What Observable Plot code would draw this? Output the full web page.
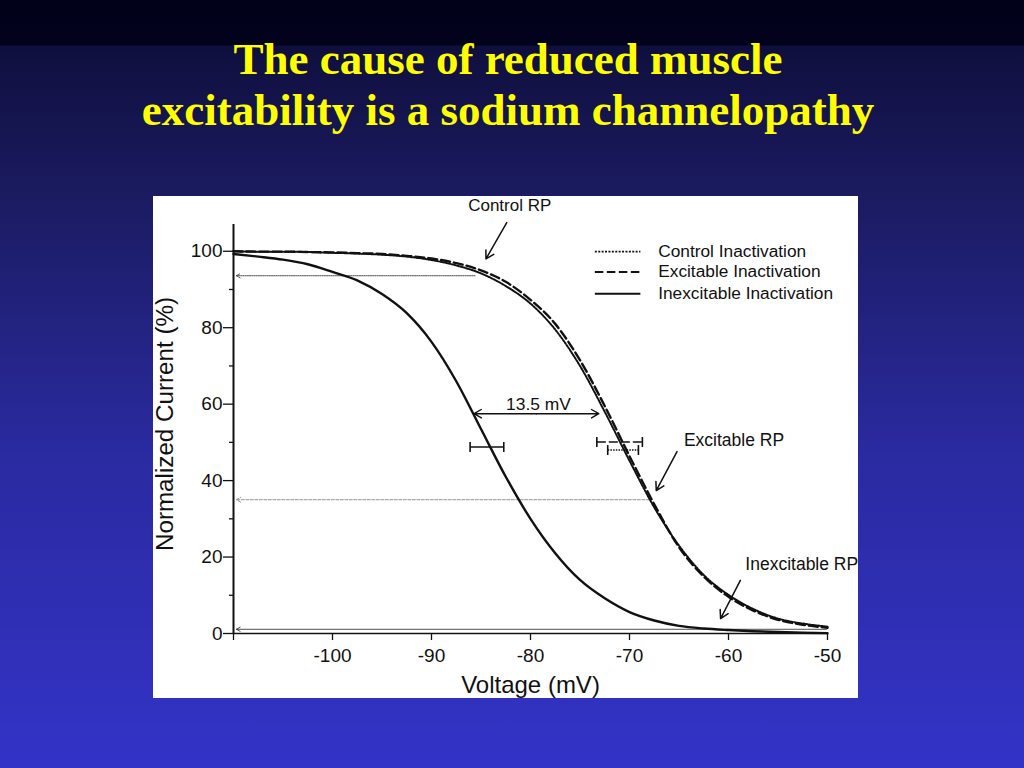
<!DOCTYPE html>
<html>
<head>
<meta charset="utf-8">
<script src="https://cdn.jsdelivr.net/npm/d3@7"></script>
<script src="https://cdn.jsdelivr.net/npm/@observablehq/plot@0.6"></script>
<style>
  html, body { margin: 0; padding: 0; }
  body {
    width: 1024px; height: 768px; position: relative; overflow: hidden;
    background: linear-gradient(to bottom, #01011a 0px, #02021c 45px, #0f0f3e 46px, #1b1b62 200px, #2a2aa0 450px, #3333c8 768px);
  }
  .title {
    position: absolute; left: 0; width: 1016px; top: 34px; text-align: center;
    font-family: "Liberation Serif", "Times New Roman", serif; font-weight: bold;
    font-size: 45px; line-height: 51px; color: #ffff00;
  }
  #panel {
    position: absolute; left: 153px; top: 196px; width: 705px; height: 502px; background: #ffffff;
  }
  #panel svg { display: block; }
</style>
</head>
<body>
<div class="title">The cause of reduced muscle<br>excitability is a sodium channelopathy</div>
<div id="panel"></div>
<script>
// Voltage (mV) sample points
const voltage = [-110,-107.5,-105,-102.5,-100,-97.5,-95,-92.5,-90,-87.5,-85,-82.5,-80,-77.5,-75,-72.5,-70,-67.5,-65,-62.5,-60,-57.5,-55,-52.5,-50];
// Normalized current (%)
const controlInact     = [100,99.9,99.9,99.8,99.6,99.4,99.1,98.6,97.7,96.3,94.2,90.9,86.3,79.5,70.0,58.0,45.2,33.0,23.0,15.3,10.1,6.4,3.9,2.6,1.8];
const excitableInact   = [100,99.9,99.9,99.8,99.7,99.5,99.3,98.8,98.1,96.9,95.0,92.0,87.3,81.0,71.5,59.5,46.4,33.8,22.6,14.9,9.6,6.0,3.6,2.3,1.5];
const inexcitableInact = [99.3,98.6,97.8,96.6,94.6,92.4,88.8,83.8,76.3,66.0,53.5,41.0,30.0,21.0,14.0,9.2,5.6,3.4,2.0,1.3,0.9,0.6,0.4,0.2,0.1];

// Series names and tick labels
const seriesNames = ["Control Inactivation", "Excitable Inactivation", "Inexcitable Inactivation"];
const xTicks = [-110, -100, -90, -80, -70, -60, -50];
const xTickLabels = ["", "-100", "-90", "-80", "-70", "-60", "-50"];
const yTicks = [0, 20, 40, 60, 80, 100];
const yMinorTicks = [10, 30, 50, 70, 90];

// Half-inactivation error bars (inexcitable, excitable, control)
const errLow  = [-86.1, -73.3, -72.2];
const errHigh = [-82.7, -68.7, -69.1];
const errY    = [48.8, 50.1, 48.0];

// Resting potential markers
const rpNames   = ["Control RP", "Excitable RP", "Inexcitable RP"];
const rpLineX   = [-85.6, -68.0, -50.1];
const rpLineY   = [93.6, 35.0, 1.1];
const rpArrowX1 = [-82.4, -65.2, -58.8];
const rpArrowY1 = [107.5, 47.6, 13.9];
const rpArrowX2 = [-84.5, -67.3, -60.8];
const rpArrowY2 = [98.0, 37.4, 3.9];
const rpLabelX  = [-82.1, -64.5, -58.3];
const rpLabelY  = [111.9, 50.5, 18.0];

// Shift annotation
const shiftLabel = "13.5 mV";
const shiftFrom = -85.7, shiftTo = -73.1, shiftY = 57.5;

// Legend placement (data units)
const legendY = [99.9, 94.6, 88.9];
const legendX1 = -73.5, legendX2 = -68.9, legendTextX = -67.1;

const ctrl = voltage.map((v, i) => ({v, c: controlInact[i]}));
const exc  = voltage.map((v, i) => ({v, c: excitableInact[i]}));
const inex = voltage.map((v, i) => ({v, c: inexcitableInact[i]}));

const styles = [
  {stroke: "#111", strokeWidth: 2, strokeDasharray: "1.6,1.4"},
  {stroke: "#111", strokeWidth: 2.4, strokeDasharray: "9,4"},
  {stroke: "#111", strokeWidth: 2.4}
];
const legendStyles = [
  {stroke: "#111", strokeWidth: 1.6, strokeDasharray: "2,1.4"},
  {stroke: "#111", strokeWidth: 2, strokeDasharray: "8.5,3.5"},
  {stroke: "#111", strokeWidth: 2}
];

const mid = (shiftFrom + shiftTo) / 2;
const font = "Liberation Sans, Arial, Helvetica, sans-serif";

const caps = [
  {x: errLow[0], y: errY[0]}, {x: errHigh[0], y: errY[0]},
  {x: errLow[1], y: errY[1]}, {x: errHigh[1], y: errY[1]},
  {x: errLow[2], y: errY[2]}, {x: errHigh[2], y: errY[2]}
];

const chart = Plot.plot({
  width: 705,
  height: 502,
  marginLeft: 80,
  marginRight: 31,
  marginTop: 28,
  marginBottom: 65,
  style: {fontFamily: font, color: "#111", background: "transparent", overflow: "visible"},
  x: {type: "linear", domain: [-110, -50]},
  y: {type: "linear", domain: [0, 107]},
  marks: [
    // axes
    Plot.ruleX([-110], {y1: 0, y2: 107, stroke: "#111", strokeWidth: 2}),
    Plot.ruleY([0], {x1: -110, x2: -50, stroke: "#111", strokeWidth: 1.6}),
    Plot.axisX(xTicks, {tickSize: 7, tickPadding: 8, fontSize: 19, tickFormat: (d, i) => xTickLabels[i], label: null, stroke: "#111", strokeWidth: 1.3}),
    Plot.axisY(yTicks, {tickSize: 10, tickPadding: 1, fontSize: 19, label: null, stroke: "#111", strokeWidth: 1.3}),
    Plot.axisY(yMinorTicks, {tickSize: 4, text: null, label: null, stroke: "#111", strokeWidth: 1.3}),
    Plot.text(["Voltage (mV)"], {frameAnchor: "bottom", dy: 59, fontSize: 24, fill: "#111"}),
    Plot.text(["Normalized Current (%)"], {frameAnchor: "left", textAnchor: "middle", dx: -68, dy: -5, rotate: -90, fontSize: 24.2, fill: "#111"}),

    // RP reference lines
    Plot.arrow([0], {x1: rpLineX[0], y1: rpLineY[0], x2: -109.7, y2: rpLineY[0], stroke: "#222", strokeWidth: 0.8, strokeDasharray: "1.2,1", headLength: 8}),
    Plot.arrow([0], {x1: rpLineX[1], y1: rpLineY[1], x2: -109.7, y2: rpLineY[1], stroke: "#888", strokeWidth: 0.9, strokeDasharray: "3,1.5", headLength: 8}),
    Plot.arrow([0], {x1: rpLineX[2], y1: rpLineY[2], x2: -109.7, y2: rpLineY[2], stroke: "#222", strokeWidth: 0.8, headLength: 8}),

    // curves
    Plot.line(exc,  {x: "v", y: "c", curve: "monotone-x", ...styles[1]}),
    Plot.line(ctrl, {x: "v", y: "c", curve: "monotone-x", ...styles[0]}),
    Plot.line(inex, {x: "v", y: "c", curve: "monotone-x", ...styles[2]}),

    // error bars
    Plot.link([0], {x1: errLow[2], x2: errHigh[2], y1: errY[2], y2: errY[2], stroke: "#111", strokeWidth: 1.4, strokeDasharray: "1.5,1.2"}),
    Plot.link([0], {x1: errLow[1], x2: errHigh[1], y1: errY[1], y2: errY[1], stroke: "#111", strokeWidth: 1.6, strokeDasharray: "9,3"}),
    Plot.link([0], {x1: errLow[0], x2: errHigh[0], y1: errY[0], y2: errY[0], stroke: "#111", strokeWidth: 1.4}),
    Plot.link(caps, {x1: "x", x2: "x", y1: d => d.y + 1.3, y2: d => d.y - 1.3, stroke: "#111", strokeWidth: 1.6}),

    // 13.5 mV shift arrow
    Plot.arrow([0], {x1: mid, y1: shiftY, x2: shiftFrom, y2: shiftY, stroke: "#111", strokeWidth: 1.4, headLength: 9}),
    Plot.arrow([0], {x1: mid, y1: shiftY, x2: shiftTo, y2: shiftY, stroke: "#111", strokeWidth: 1.4, headLength: 9}),
    Plot.text([shiftLabel], {x: mid + 0.2, y: shiftY, dy: -9, fontSize: 17.4, fill: "#111"}),

    // RP annotations
    Plot.arrow(rpNames, {x1: (d, i) => rpArrowX1[i], y1: (d, i) => rpArrowY1[i], x2: (d, i) => rpArrowX2[i], y2: (d, i) => rpArrowY2[i], stroke: "#111", strokeWidth: 1.5, headLength: 9}),
    Plot.text(rpNames.slice(0, 1), {x: rpLabelX[0], y: rpLabelY[0], fontSize: 17, fill: "#111"}),
    Plot.text(rpNames.slice(1), {x: (d, i) => rpLabelX[i + 1], y: (d, i) => rpLabelY[i + 1], textAnchor: "start", fontSize: 17.5, fill: "#111"}),

    // legend
    ...seriesNames.map((name, i) =>
      Plot.link([name], {x1: legendX1, x2: legendX2, y1: legendY[i], y2: legendY[i], ...legendStyles[i]})
    ),
    Plot.text(seriesNames, {x: legendTextX, y: (d, i) => legendY[i], textAnchor: "start", fontSize: 17.3, fill: "#111"})
  ]
});
document.getElementById("panel").appendChild(chart);
</script>
</body>
</html>
